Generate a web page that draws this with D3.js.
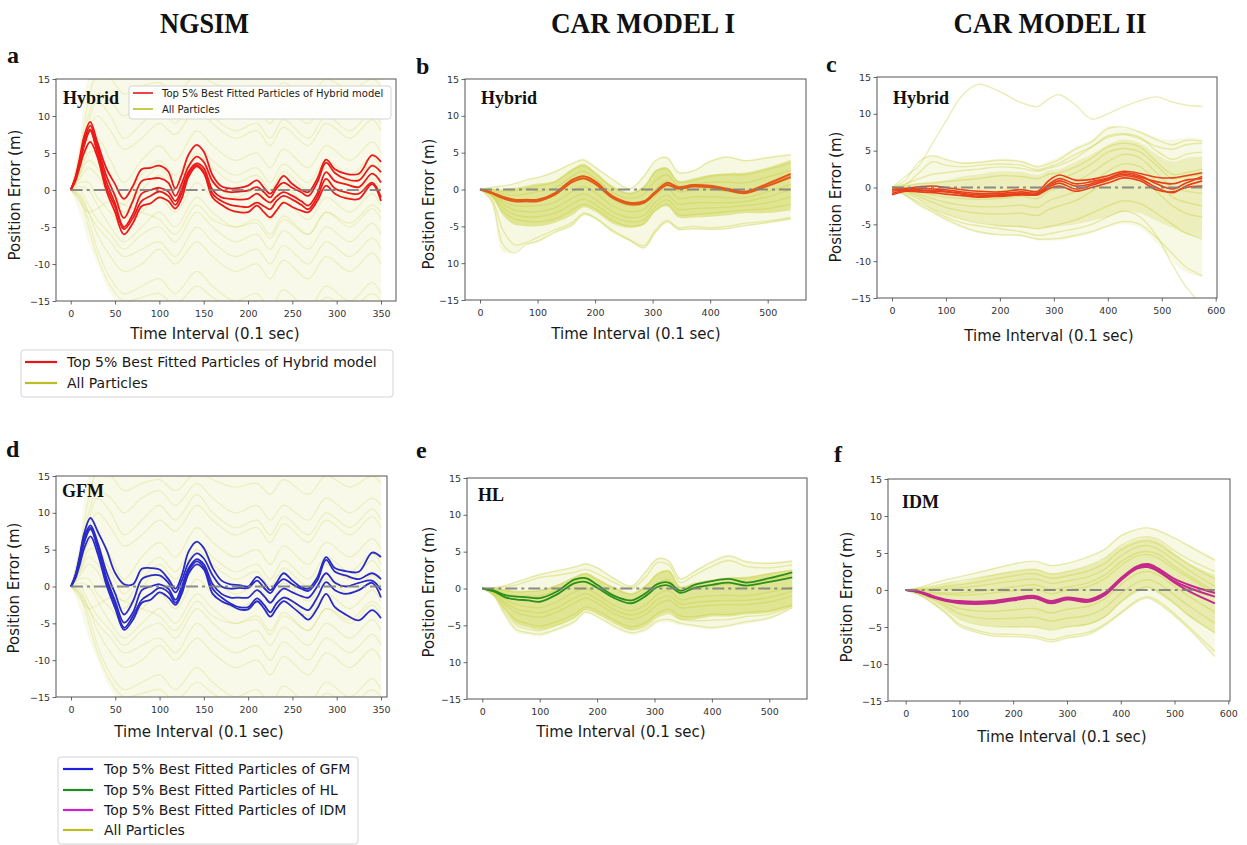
<!DOCTYPE html>
<html><head><meta charset="utf-8">
<script src="https://cdn.jsdelivr.net/npm/d3@7"></script>
<style>body{margin:0;background:#fff}svg{display:block}</style>
</head><body>
<svg id="chart" width="1247" height="845"></svg>
<script>
// ================= DATA =================
const columnTitles = ["NGSIM", "CAR MODEL I", "CAR MODEL II"];
const panelLetters = ["a", "b", "c", "d", "e", "f"];
const modelNames = ["Hybrid", "Hybrid", "Hybrid", "GFM", "HL", "IDM"];
const xAxisTitle = "Time Interval (0.1 sec)";
const yAxisTitle = "Position Error (m)";

const yTickValues = [15, 10, 5, 0, -5, -10, -15];
const yTickLabelsA = ["15", "10", "5", "0", "-5", "-10", "−15"];
const yTickLabelsB = ["15", "10", "5", "0", "-5", "10", "−15"];
const yTickLabelsC = ["15", "10", "5", "0", "-5", "-10", "−15"];
const yTickLabelsD = ["15", "10", "5", "0", "-5", "-10", "−15"];
const yTickLabelsE = ["15", "10", "5", "0", "−5", "10", "−15"];
const yTickLabelsF = ["15", "10", "5", "0", "−5", "−10", "−15"];
const ngsimXTicks = [0, 50, 100, 150, 200, 250, 300, 350];
const carIXTicks = [0, 100, 200, 300, 400, 500];
const carIIXTicks = [0, 100, 200, 300, 400, 500, 600];

// ---- NGSIM (panels a, d) ----
const ngsimBestX = [0,5,10,15,22,30,40,50,60,70,80,90,100,110,118,125,133,142,150,160,170,180,190,200,210,218,225,232,240,250,260,268,278,288,298,310,325,340,350];
const hybridNgsimBest = [
  [0,1.6,4.2,7.2,9.2,6.5,3.0,0.8,-1.2,0.5,2.8,3.0,3.3,2.5,0.2,2.0,4.8,6.1,5.2,2.0,0.5,0.2,0.3,0.6,1.3,0.3,-0.5,0.6,1.9,0.8,0.0,-0.3,1.5,4.1,2.8,2.2,2.2,4.7,3.8],
  [0,1.5,3.9,6.6,8.7,6.0,2.0,-0.8,-3.8,-1.5,1.2,1.5,1.6,1.0,-0.8,0.8,3.2,4.5,3.8,1.2,0.0,-0.3,-0.2,-0.1,0.4,-0.3,-1.0,0.2,1.0,0.3,-0.3,-0.8,1.0,3.7,2.3,1.5,1.3,3.3,2.4],
  [0,1.4,3.6,6.2,8.2,5.5,1.2,-1.8,-5.0,-3.3,-0.5,0.0,0.3,-0.2,-1.5,0.0,2.5,3.6,3.0,0.0,-1.0,-1.2,-1.3,-1.2,-0.5,-1.2,-1.7,-0.9,-0.3,-0.8,-1.5,-2.1,-0.5,2.4,1.2,0.8,0.4,2.2,1.0],
  [0,1.3,3.4,5.9,8.0,5.0,0.5,-2.3,-5.3,-3.8,-1.5,-0.8,-0.2,-0.8,-2.0,-0.5,2.2,3.4,2.5,-0.5,-1.5,-2.0,-2.2,-2.3,-1.7,-2.2,-2.6,-1.5,-0.8,-1.3,-2.0,-2.6,-1.0,1.5,0.2,-0.3,-0.5,1.0,-1.0],
  [0,1.1,3.0,5.0,6.5,4.5,0.0,-3.0,-6.0,-4.5,-2.2,-1.8,-1.0,-1.5,-2.5,-1.2,1.8,3.2,2.3,-1.0,-2.0,-2.7,-3.0,-3.0,-2.1,-3.0,-3.7,-2.8,-1.7,-2.3,-2.8,-3.0,-1.5,0.6,-0.5,-1.1,-1.2,0.8,-1.5]
];
const gfmNgsimBest = [
  [0,1.6,4.3,7.3,9.3,7.5,5.0,1.8,0.3,0.3,2.4,2.5,2.3,1.0,-0.3,1.5,4.8,6.1,5.2,2.5,0.8,0.3,0.2,0.0,1.3,0.5,-0.5,0.5,1.8,0.8,-0.1,-0.3,1.2,4.0,2.5,2.1,2.0,4.6,4.0],
  [0,1.5,4.0,6.8,8.3,6.0,2.0,-1.0,-3.8,-2.0,1.0,1.5,1.5,0.5,-0.8,0.8,3.3,4.5,3.8,1.5,0.0,-0.3,-0.2,-0.2,0.8,-0.2,-0.9,0.2,1.0,0.3,-0.3,-0.6,0.8,3.6,2.0,1.5,1.0,1.8,1.0],
  [0,1.4,3.7,6.4,8.0,5.5,1.2,-2.0,-4.9,-3.5,-0.5,0.0,0.3,-0.3,-1.8,0.0,2.5,3.7,3.0,0.3,-1.0,-1.5,-1.5,-1.5,-0.5,-1.3,-2.2,-1.2,-0.3,-0.8,-1.3,-1.5,0.0,1.8,0.5,0.0,0.5,0.8,-0.5],
  [0,1.3,3.5,6.0,7.8,5.2,0.8,-2.5,-5.6,-4.0,-1.8,-1.0,-0.2,-0.8,-2.2,-0.5,2.2,3.4,2.6,-0.3,-1.5,-2.3,-2.8,-2.8,-1.6,-2.5,-3.5,-2.3,-1.5,-2.0,-2.8,-3.2,-1.5,0.6,-0.5,-1.0,-0.5,0.5,-1.5],
  [0,1.1,3.0,5.2,6.8,4.5,0.2,-3.0,-5.9,-4.5,-2.2,-1.8,-0.8,-1.5,-2.5,-1.0,1.8,3.0,2.3,-1.0,-2.0,-2.5,-3.1,-3.1,-2.0,-3.0,-4.1,-3.0,-2.0,-2.8,-3.8,-4.5,-3.0,-1.0,-2.8,-3.8,-4.6,-3.2,-4.3]
];
const ngsimCloudX = [0,10,20,30,45,60,80,100,118,142,160,185,210,225,240,268,288,315,340,350];
const ngsimCloudHi = [0,6,15,16,16,16,16,16,16,16,16,16,16,16,16,16,16,16,16,16];
const ngsimCloudLo = [0,-3,-7,-10,-14,-16,-16,-16,-16,-16,-16,-16,-16,-16,-16,-16,-16,-16,-16,-16];
const ngsimParticles = [
  [0,4,10,13,12,10,12,13,11,14,12,10,11,9,11,9,12,10,12,11],
  [0,3,8,10,8,5.5,7,9,7.5,11,9,7,8,6,8.5,6,9,7,9.5,8],
  [0,2.5,6,7,4,1,4,6,4,8,6,4,5,3,5.5,3,6,4,6.5,5],
  [0,2,4,3,0,-2,1,3,1,5,3,1,2,0,2.5,0,3,1,3.5,2],
  [0,1,1,-1,-3,-5,-3,-1,-3,1,-1,-3,-2,-4,-1.5,-4,-1,-3,-0.5,-2],
  [0,0,-2,-4,-6,-8,-6,-5,-7,-3,-5,-7,-6,-8,-5.5,-8,-5,-7,-4.5,-6],
  [0,-0.5,-3,-6,-9,-11,-10,-8,-10,-7,-9,-11,-10,-12,-9.5,-12,-9,-11,-8.5,-10],
  [0,-1,-4,-8,-12,-14,-13,-12,-14,-11,-13,-15,-14,-16,-13.5,-16,-13,-15,-12.5,-14],
  [0,5,12,15.5,15,13,14,14.5,13,15.5,14.5,13.5,14,12.5,14.5,12.5,15,13.5,15,14],
  [0,1.5,3,2,-1,-3,0,2,0,3,1,-1,0,-2,0.5,-2,1,-1,1.5,0],
  [0,0.5,0,-2,-5,-7,-5,-3,-5,-1,-3,-5,-4,-6,-3.5,-6,-3,-5,-2.5,-4],
  [0,-0.8,-3,-5,-7,-9,-8,-7,-9,-5,-7,-9,-8,-10,-7.5,-10,-7,-9,-6.5,-8],
  [0,3.5,9,12,10,7,9,11,9,12.5,10,8,9,7,9.5,7,10,8,10.5,9],
  [0,2,5,5,2,-1,2,4,2,6,4,2,3,1,3.5,1,4,2,4.5,3],
  [0,-1.2,-5,-9,-13,-15,-14.5,-14,-15.5,-13,-14.5,-16,-15,-17,-15,-17,-14.5,-16,-14,-15],
  [0,-1.5,-3,-2.5,-1.5,-2,-3,-4,-6,-2,-4,-5,-4.5,-6.5,-4,-6,-3,-4.5,-2,-3]
];

// ---- CAR MODEL I (panels b, e) ----
const carIX = [0,20,40,60,80,100,130,160,180,200,230,260,285,305,325,345,370,400,430,460,500,540];
const hybridCarIBest = [
  [0,-0.4,-1.0,-1.4,-1.4,-1.4,-0.5,1.3,1.8,1.1,-0.9,-1.8,-1.6,-0.3,0.9,0.3,0.6,0.5,0.1,-0.3,0.8,2.1],
  [0,-0.5,-1.2,-1.6,-1.6,-1.6,-0.7,1.0,1.5,0.8,-1.1,-2.0,-1.8,-0.5,0.6,0.1,0.4,0.3,-0.1,-0.5,0.5,1.7]
];
const hybridCarIOuterHi = [0,0.4,0.5,0.8,1.3,1.7,2.5,3.6,4.2,3.2,1.5,0.2,2.0,4.0,4.5,2.5,2.6,4.0,4.5,4.0,4.5,4.9];
const hybridCarIOuterLo = [0,-2,-8.5,-8.5,-7.5,-7.2,-6,-5,-3.5,-4,-5.8,-7,-8,-6,-4.5,-5.5,-5.5,-5.5,-5.4,-5,-4.6,-4.1];
const hybridCarIInnerHi = [0,0.1,0,0.2,0.5,0.8,1.2,2.8,3.5,2.4,0.5,-0.4,0.5,2.6,3.0,1.2,1.5,2.0,2.2,2.3,3.0,4.0];
const hybridCarIInnerLo = [0,-1.0,-3.5,-4.8,-5.0,-5.0,-4.5,-3.5,-2.4,-3.0,-4.6,-5.2,-4.8,-3,-2.3,-3.8,-3.8,-3.7,-3.5,-3.2,-3.2,-2.8];
const hybridCarIParticles = [
  [0,0.3,0.5,0.8,1.3,1.6,2.4,3.5,4.0,3.0,1.4,0.1,1.8,3.9,4.3,2.3,2.5,3.8,4.4,3.9,4.3,4.7],
  [0,0,-0.3,-0.2,0.2,0.5,1.0,2.6,3.2,2.2,0.3,-0.6,0.3,2.4,2.8,1.0,1.2,1.8,2.0,2.0,2.7,3.6],
  [0,-0.3,-1.2,-1.5,-1.5,-1.3,-0.8,1.0,1.6,0.6,-1.3,-2.2,-1.8,0,1.2,-0.3,0,0,-0.3,-0.5,0.5,1.5],
  [0,-0.6,-2.0,-2.8,-3.0,-3.0,-2.5,-1.2,-0.6,-1.3,-3.0,-3.8,-3.5,-1.7,-0.8,-2.0,-1.8,-1.8,-1.8,-1.6,-1.0,0],
  [0,-0.8,-3.0,-4.0,-4.3,-4.4,-4.0,-2.8,-2.0,-2.6,-4.2,-5.0,-4.6,-2.8,-2.0,-3.4,-3.4,-3.2,-3.0,-2.8,-2.6,-2.0],
  [0,-1.2,-5.5,-7.5,-7.2,-6.5,-5.5,-4.5,-3.2,-3.8,-5.5,-6.8,-7.6,-5.5,-4.2,-5.2,-5.0,-5.2,-5.0,-4.6,-4.3,-3.8],
  [0,-1.5,-7.5,-8.6,-7.5,-7.0,-5.8,-4.8,-3.4,-3.9,-5.7,-6.9,-7.9,-5.8,-4.4,-5.4,-5.3,-5.4,-5.3,-4.9,-4.5,-4.0],
  [0,-0.2,-0.6,-0.8,-0.6,-0.3,0.2,1.8,2.5,1.5,-0.4,-1.2,-0.6,1.2,2.0,0.5,0.7,1.0,1.0,0.9,1.7,2.6],
  [0,-0.5,-1.6,-2.2,-2.3,-2.2,-1.7,-0.3,0.4,-0.4,-2.2,-3.0,-2.7,-0.9,0.2,-1.2,-1.0,-1.0,-1.1,-1.1,-0.3,0.7],
  [0,-0.7,-2.5,-3.4,-3.7,-3.7,-3.2,-2.0,-1.3,-2.0,-3.6,-4.4,-4.1,-2.3,-1.4,-2.7,-2.6,-2.5,-2.4,-2.2,-1.8,-1.0]
];
const hlCarIBest = [
  [0,-0.3,-0.9,-1.1,-1.2,-1.3,-0.4,1.2,1.4,0.5,-1.0,-1.6,-0.6,0.6,0.8,-0.3,0.5,1.0,1.3,0.8,1.4,2.2],
  [0,-0.4,-1.2,-1.5,-1.6,-1.8,-0.8,0.7,0.9,0.1,-1.3,-2.0,-1.0,0.2,0.4,-0.6,0.1,0.5,0.8,0.4,0.9,1.5]
];
const hlCarIOuterHi = [0,0.2,0.5,1.0,1.5,2.0,2.5,3.0,3.5,3.0,1.5,0.5,2.5,4.2,3.9,1.5,2.5,3.8,4.6,3.8,3.6,3.9];
const hlCarIOuterLo = [0,-1.2,-4,-6,-6.3,-6.5,-5.8,-4.8,-3.4,-4,-5.4,-6.3,-5.8,-4.8,-4.6,-5,-5.3,-5.6,-5.2,-4.8,-4.2,-2.7];
const hlCarIInnerHi = [0,0,-0.1,-0.3,-0.3,-0.2,0.5,1.5,2.1,1.4,0.2,-0.6,0.5,2.1,2.5,0.3,0.8,1.2,1.5,1.6,2.1,2.5];
const hlCarIInnerLo = [0,-0.9,-3,-4.8,-5.3,-5.6,-5,-4,-2.9,-3.4,-4.6,-5.6,-5,-3.8,-3.3,-4.2,-4.2,-3.8,-3.8,-3.5,-3.3,-2.4];
const hlCarIParticles = [
  [0,0.1,0.4,0.9,1.4,1.9,2.4,2.9,3.3,2.8,1.3,0.3,2.3,4.0,3.7,1.3,2.3,3.6,4.4,3.6,3.4,3.7],
  [0,-0.1,-0.3,-0.5,-0.4,-0.3,0.4,1.5,2.0,1.2,0,-0.8,0.3,1.9,2.3,0.1,0.6,1.1,1.4,1.4,2.0,2.5],
  [0,-0.4,-1.5,-2.2,-2.5,-2.6,-1.8,-0.5,0,-0.8,-2.3,-3.0,-2.2,-0.8,-0.3,-1.5,-1.2,-1.0,-0.9,-1.0,-0.5,0.2],
  [0,-0.6,-2.2,-3.3,-3.7,-3.9,-3.2,-2.0,-1.3,-2.0,-3.4,-4.2,-3.5,-2.2,-1.6,-2.6,-2.5,-2.3,-2.2,-2.2,-1.8,-1.0],
  [0,-0.8,-2.8,-4.3,-4.8,-5.1,-4.5,-3.5,-2.5,-3.0,-4.3,-5.2,-4.6,-3.4,-2.8,-3.7,-3.8,-3.5,-3.5,-3.2,-3.0,-2.2],
  [0,-1.0,-3.6,-5.6,-6.0,-6.2,-5.5,-4.5,-3.2,-3.8,-5.1,-6.0,-5.5,-4.4,-4.2,-4.7,-5.0,-5.3,-5.0,-4.5,-4.0,-2.6],
  [0,-0.2,-0.7,-1.0,-1.0,-1.0,-0.2,1.0,1.3,0.4,-1.0,-1.7,-0.7,0.7,1.2,-0.5,0,0.4,0.6,0.5,1.2,1.8],
  [0,-0.5,-1.9,-2.8,-3.1,-3.3,-2.6,-1.3,-0.7,-1.4,-2.9,-3.6,-2.9,-1.5,-1.0,-2.1,-1.9,-1.7,-1.6,-1.6,-1.2,-0.4],
  [0,0,0.2,0.5,1.0,1.5,1.8,2.2,2.6,2.0,0.8,0,1.6,3.5,3.2,0.8,1.8,3.0,3.8,3.0,2.8,3.2],
  [0,-0.9,-3.2,-5.0,-5.5,-5.7,-5.0,-4.0,-2.9,-3.4,-4.7,-5.6,-5.1,-3.9,-3.4,-4.2,-4.4,-4.3,-4.2,-3.8,-3.5,-2.4]
];

// ---- CAR MODEL II (panels c, f) ----
const carIIHybridX = [0,25,50,75,100,130,160,200,240,270,290,310,340,370,400,430,460,490,520,545,575];
const hybridCarIIBest = [
  [0,-0.1,0.1,0.2,0.0,-0.3,-0.5,-0.6,-0.3,-0.5,0.9,1.7,1.0,1.1,1.6,2.2,1.9,1.4,1.3,1.6,2.0],
  [-0.3,-0.2,-0.1,-0.2,-0.3,-0.6,-0.8,-0.8,-0.6,-0.7,0.4,1.2,0.5,0.8,1.3,2.0,1.6,0.5,-0.2,0.6,1.5],
  [-0.8,-0.4,-0.4,-0.5,-0.6,-0.8,-1.0,-1.0,-0.8,-0.9,0.0,0.6,-0.2,0.3,1.0,1.6,1.2,0.0,-0.7,0.2,0.9],
  [-1.0,-0.5,-0.6,-0.7,-0.9,-1.1,-1.3,-1.2,-1.0,-1.0,-0.2,0.2,-0.5,0.0,0.6,1.3,0.9,-0.3,-0.6,0.0,0.2],
  [-0.5,-0.3,-0.3,-0.4,-0.5,-0.9,-1.2,-1.1,-0.9,-0.8,0.2,0.9,0.2,0.5,1.2,1.8,1.4,0.8,0.5,1.0,1.2]
];
const hybridCarIIOuterHi = [0,0.8,3.0,4.3,3.8,3.5,3.6,3.9,3.7,3.0,3.6,4.2,5.5,6.5,8.3,8.0,7.6,6.8,6.5,6.8,6.6];
const hybridCarIIOuterLo = [0,-1.3,-2.6,-3.5,-4.5,-5.5,-6.2,-6.5,-6.7,-7.2,-7.2,-7.2,-6.8,-6.2,-5.4,-5.0,-5.5,-7.5,-10,-11.5,-12.2];
const hybridCarIIInnerHi = [0,0.3,0.6,0.8,1.0,1.5,1.8,2.2,2.1,1.7,2.3,2.5,3.5,4.5,5.8,6.5,6.0,4.5,3.5,4.0,4.2];
const hybridCarIIInnerLo = [0,-0.8,-1.6,-2.6,-3.5,-4.2,-4.7,-5.2,-5.4,-5.6,-5.5,-5.3,-5.0,-4.5,-4.0,-3.3,-3.5,-4.5,-5.5,-6.3,-6.8];
const hybridCarIIParticles = [
  [0,1.5,3.0,6,9,12.5,14,13,11.5,11,12,12.6,11.2,9.3,10.0,11.0,11.8,12.3,11.6,11.2,11.0],
  [0,1.0,3.5,4.3,3.8,3.3,3.4,3.7,3.5,2.8,3.2,3.8,5.2,6.2,8.0,8.2,7.5,6.5,5.8,6.4,6.3],
  [0,0.5,1.2,1.8,2.0,2.3,2.5,2.8,2.6,2.2,2.6,3.0,4.0,5.5,7.0,7.3,6.8,5.0,3.8,4.5,4.8],
  [0,0.2,0.5,0.6,0.8,1.0,1.2,1.6,1.5,1.2,1.8,2.0,2.8,4.0,5.5,6.0,5.5,3.5,1.8,2.0,2.5],
  [0,-0.3,-0.6,-1.0,-1.3,-1.5,-1.6,-1.5,-1.2,-1.5,-0.5,0,0.8,2.0,3.5,4.5,4.0,2.0,0,-0.5,-0.8],
  [0,-0.5,-1.2,-2.0,-2.7,-3.2,-3.5,-3.6,-3.5,-3.8,-3.0,-2.5,-1.8,-0.5,1.0,2.0,1.5,-0.5,-2.5,-3.5,-4.0],
  [0,-0.7,-1.6,-2.8,-3.6,-4.3,-4.8,-5.2,-5.3,-5.6,-5.3,-5.0,-4.4,-3.5,-2.5,-1.8,-2.2,-3.5,-5.0,-6.2,-7.0],
  [0,-1.0,-2.3,-3.3,-4.3,-5.3,-6.0,-6.4,-6.5,-7.0,-7.0,-6.9,-6.5,-6.0,-5.2,-4.6,-5.0,-6.8,-9.0,-10.8,-12.0],
  [0,-1.0,-2.0,-3.0,-4.0,-4.8,-5.2,-5.6,-6.0,-6.5,-6.3,-6.0,-5.6,-5.0,-4.0,-3.2,-4.0,-6.5,-10.5,-13.5,-16],
  [0,0.4,2.0,3.5,3.0,2.8,3.0,3.2,3.0,2.4,2.8,3.3,4.5,5.5,6.8,7.2,6.6,5.6,5.2,5.8,6.0],
  [0,-0.2,-0.3,-0.5,-0.6,-0.8,-0.9,-0.5,-0.2,-0.6,0.6,1.2,2.0,3.2,4.8,5.3,4.8,3.0,1.2,1.5,1.8],
  [0,-0.4,-0.9,-1.5,-2.0,-2.4,-2.6,-2.6,-2.4,-2.7,-1.8,-1.3,-0.6,0.6,2.2,3.2,2.8,0.8,-1.3,-2.0,-2.5]
];
const carIIIdmX = [0,25,50,75,100,130,160,200,240,270,300,340,370,400,430,450,470,500,530,575];
const idmCarIIBest = [
  [0,-0.2,-0.8,-1.3,-1.5,-1.6,-1.5,-1.1,-0.8,-1.5,-1.0,-1.3,-0.4,1.6,3.2,3.5,2.9,1.5,0.6,-0.4],
  [0,-0.3,-0.9,-1.4,-1.7,-1.8,-1.7,-1.3,-1.0,-1.7,-1.2,-1.5,-0.6,1.4,3.0,3.3,2.7,1.2,0.2,-0.9],
  [0,-0.3,-1.0,-1.5,-1.8,-1.9,-1.8,-1.4,-1.1,-1.8,-1.3,-1.6,-0.7,1.3,2.9,3.1,2.5,1.0,-0.3,-1.8]
];
const idmCarIIOuterHi = [0,0.3,0.9,1.4,1.8,2.3,2.9,3.6,3.9,3.4,3.6,4.5,5.5,7.5,8.2,8.4,8.2,7.0,6.0,4.3];
const idmCarIIOuterLo = [0,-0.7,-1.8,-3.2,-4.9,-5.7,-6.2,-6.3,-6.5,-7.0,-6.5,-6.0,-4.8,-3.2,-1.6,-1.1,-1.8,-3.5,-5.5,-9.0];
const idmCarIIInnerHi = [0,0.1,0.4,0.8,1.0,1.5,2.0,2.5,2.8,2.2,2.5,3.2,4.2,5.8,6.8,7.0,6.6,5.0,3.5,2.0];
const idmCarIIInnerLo = [0,-0.5,-1.3,-2.5,-3.8,-4.5,-4.8,-5.0,-5.0,-5.3,-5.0,-4.7,-3.8,-1.8,-0.3,0.2,-0.5,-2.0,-3.8,-5.8];
const idmCarIIParticles = [
  [0,0.3,0.9,1.4,1.8,2.3,2.8,3.5,3.9,3.3,3.6,4.5,5.5,7.3,8.2,8.4,8.0,7.0,5.8,4.0],
  [0,0.2,0.5,0.9,1.2,1.6,2.0,2.5,2.8,2.2,2.5,3.3,4.3,6.0,7.0,7.2,6.8,5.3,4.0,2.5],
  [0,0,0.1,0.2,0.3,0.5,0.8,1.2,1.5,0.9,1.2,1.8,2.8,4.6,5.8,6.0,5.5,4.0,2.5,0.5],
  [0,-0.2,-0.5,-0.6,-0.7,-0.6,-0.4,-0.1,0.2,-0.5,0,0.5,1.5,3.3,4.6,4.8,4.3,2.8,1.5,-0.5],
  [0,-0.3,-1.0,-1.8,-2.5,-2.8,-2.9,-2.7,-2.5,-3.1,-2.6,-2.2,-1.2,0.7,2.2,2.5,2.0,0.5,-1.0,-3.0],
  [0,-0.4,-1.2,-2.2,-3.2,-3.7,-3.9,-3.8,-3.7,-4.2,-3.8,-3.4,-2.4,-0.5,1.0,1.4,0.9,-0.7,-2.3,-4.5],
  [0,-0.5,-1.4,-2.6,-3.9,-4.6,-4.9,-5.0,-5.0,-5.4,-5.0,-4.6,-3.6,-1.6,0,0.4,-0.2,-1.8,-3.6,-5.8],
  [0,-0.7,-1.8,-3.2,-4.9,-5.7,-6.2,-6.3,-6.5,-7.0,-6.5,-6.0,-4.8,-3.2,-1.6,-1.1,-1.8,-3.5,-5.5,-9.0],
  [0,-0.6,-1.7,-3.0,-4.6,-5.4,-5.9,-6.0,-6.2,-6.7,-6.2,-5.7,-4.6,-3.0,-1.4,-0.9,-1.5,-3.2,-5.2,-8.3],
  [0,0.1,0.2,0.5,0.7,1.0,1.4,1.9,2.2,1.6,1.9,2.6,3.6,5.4,6.4,6.6,6.2,4.7,3.3,1.5],
  [0,-0.1,-0.3,-0.4,-0.4,-0.2,0.0,0.4,0.7,0.1,0.4,1.0,2.0,3.8,5.0,5.2,4.8,3.2,1.8,-0.2]
];

// legends
const legendA = [{label:"Top 5% Best Fitted Particles of Hybrid model", color:"#e8141c"}, {label:"All Particles", color:"#bcbd22"}];
const legendD = [
  {label:"Top 5% Best Fitted Particles of GFM", color:"#1f1fe0"},
  {label:"Top 5% Best Fitted Particles of HL", color:"#1f8a1f"},
  {label:"Top 5% Best Fitted Particles of IDM", color:"#cc22cc"},
  {label:"All Particles", color:"#bcbd22"}
];

// ================= LAYOUT =================
const CLOUD = "#c2cb2c";
const panels = [
  {key:"a", frame:[56,79,396,301], x0px:70.7, xRv:350, xRpx:381, xTicks:ngsimXTicks, yLabels:yTickLabelsA, xEnd:350,
   bands:[{x:ngsimCloudX, lo:ngsimCloudLo, hi:ngsimCloudHi, op:0.11}], partX:ngsimCloudX, parts:ngsimParticles, partOp:0.22, partW:1.2,
   bestX:ngsimBestX, best:hybridNgsimBest, bestColor:"#ec1a1a", bestW:1.8,
   letter:[7,63], model:[63,104], xl:[215,339], yl:[20,195]},
  {key:"b", frame:[465,79,806,300], x0px:480, xRv:500, xRpx:767.7, xTicks:carIXTicks, yLabels:yTickLabelsB, xEnd:540,
   bands:[{x:carIX, lo:hybridCarIOuterLo, hi:hybridCarIOuterHi, op:0.14},{x:carIX, lo:hybridCarIInnerLo, hi:hybridCarIInnerHi, op:0.42}],
   partX:carIX, parts:hybridCarIParticles, partOp:0.35, partW:1.3,
   bestX:carIX, best:hybridCarIBest, bestColor:"#e2591a", bestW:2,
   letter:[416,74], model:[481,104], xl:[636,339], yl:[434,204]},
  {key:"c", frame:[877,77,1217,298], x0px:892, xRv:600, xRpx:1215.7, xTicks:carIIXTicks, yLabels:yTickLabelsC, xEnd:575,
   bands:[{x:carIIHybridX, lo:hybridCarIIOuterLo, hi:hybridCarIIOuterHi, op:0.12},{x:carIIHybridX, lo:hybridCarIIInnerLo, hi:hybridCarIIInnerHi, op:0.22}],
   partX:carIIHybridX, parts:hybridCarIIParticles, partOp:0.35, partW:1.4,
   bestX:carIIHybridX, best:hybridCarIIBest, bestColor:"#e8401c", bestW:1.6,
   letter:[826,72], model:[893,104], xl:[1049,341], yl:[841,197]},
  {key:"d", frame:[56,476,387,697], x0px:71, xRv:350, xRpx:381, xTicks:ngsimXTicks, yLabels:yTickLabelsD, xEnd:350,
   bands:[{x:ngsimCloudX, lo:ngsimCloudLo, hi:ngsimCloudHi, op:0.11}], partX:ngsimCloudX, parts:ngsimParticles, partOp:0.22, partW:1.2,
   bestX:ngsimBestX, best:gfmNgsimBest, bestColor:"#2a2ac8", bestW:1.8,
   letter:[6,457], model:[62,497], xl:[199,737], yl:[19,588]},
  {key:"e", frame:[467,478,807,699], x0px:482.3, xRv:500, xRpx:769.3, xTicks:carIXTicks, yLabels:yTickLabelsE, xEnd:540,
   bands:[{x:carIX, lo:hlCarIOuterLo, hi:hlCarIOuterHi, op:0.14},{x:carIX, lo:hlCarIInnerLo, hi:hlCarIInnerHi, op:0.42}],
   partX:carIX, parts:hlCarIParticles, partOp:0.35, partW:1.3,
   bestX:carIX, best:hlCarIBest, bestColor:"#2b8f1e", bestW:1.8,
   letter:[416,458], model:[478,501], xl:[621,737], yl:[434,592]},
  {key:"f", frame:[888,479,1230,701], x0px:905.7, xRv:600, xRpx:1228.3, xTicks:carIIXTicks, yLabels:yTickLabelsF, xEnd:575,
   bands:[{x:carIIIdmX, lo:idmCarIIOuterLo, hi:idmCarIIOuterHi, op:0.12},{x:carIIIdmX, lo:idmCarIIInnerLo, hi:idmCarIIInnerHi, op:0.28}],
   partX:carIIIdmX, parts:idmCarIIParticles, partOp:0.35, partW:1.4,
   bestX:carIIIdmX, best:idmCarIIBest, bestColor:"#c42a8c", bestW:2,
   letter:[834,462], model:[902,508], xl:[1062,742], yl:[852,597]}
];

const svg = d3.select("#chart");
const defs = svg.append("defs");
const OLIVE = "#bcbd22";
const SANS = "'DejaVu Sans', sans-serif";
const SERIF = "'Liberation Serif', 'Times New Roman', serif";

panels.forEach((p, pi) => {
  const [L, T, R, B] = p.frame;
  const x = d3.scaleLinear().domain([0, p.xRv]).range([p.x0px, p.xRpx]);
  const y = d3.scaleLinear().domain([-15, 15]).range([B, T]);
  defs.append("clipPath").attr("id", "clip-" + p.key)
    .append("rect").attr("x", L).attr("y", T).attr("width", R - L).attr("height", B - T);
  const g = svg.append("g");
  const pg = g.append("g").attr("clip-path", `url(#clip-${p.key})`);

  const area = d3.area().x(d => x(d[0])).y0(d => y(d[1])).y1(d => y(d[2])).curve(d3.curveCatmullRom);
  p.bands.forEach(b => {
    pg.append("path").datum(b.x.map((xv, i) => [xv, b.lo[i], b.hi[i]]))
      .attr("d", area).attr("fill", CLOUD).attr("fill-opacity", b.op);
  });
  const line = d3.line().x(d => x(d[0])).y(d => y(d[1])).curve(d3.curveCatmullRom);
  p.parts.forEach(arr => {
    pg.append("path").datum(p.partX.map((xv, i) => [xv, arr[i]]))
      .attr("d", line).attr("fill", "none").attr("stroke", CLOUD)
      .attr("stroke-opacity", p.partOp).attr("stroke-width", p.partW);
  });
  p.best.forEach(arr => {
    pg.append("path").datum(p.bestX.map((xv, i) => [xv, arr[i]]))
      .attr("d", line).attr("fill", "none").attr("stroke", p.bestColor)
      .attr("stroke-width", p.bestW).attr("stroke-linejoin", "round");
  });
  // zero reference line (drawn on top, as in the reference)
  pg.append("line").attr("x1", x(0)).attr("x2", x(p.xEnd)).attr("y1", y(0)).attr("y2", y(0))
    .attr("stroke", "#7f7f7f").attr("stroke-opacity", 0.9).attr("stroke-width", 2).attr("stroke-dasharray", "12,4,3,4");

  // frame
  g.append("rect").attr("x", L).attr("y", T).attr("width", R - L).attr("height", B - T)
    .attr("fill", "none").attr("stroke", "#555").attr("stroke-width", 1);

  // axes
  const xa = g.append("g").attr("transform", `translate(0,${B})`)
    .call(d3.axisBottom(x).tickValues(p.xTicks).tickSize(3.5).tickPadding(6).tickFormat(d3.format("d")));
  const ya = g.append("g").attr("transform", `translate(${L},0)`)
    .call(d3.axisLeft(y).tickValues(yTickValues).tickSize(3.5).tickPadding(2.5).tickFormat((d, i) => p.yLabels[i]));
  [xa, ya].forEach(a => {
    a.select(".domain").remove();
    a.selectAll(".tick line").attr("stroke", "#444").attr("stroke-width", 0.8);
    a.selectAll(".tick text").attr("fill", "#333").style("font-family", SANS).style("font-size", "9.5px");
  });

  // axis titles
  g.append("text").attr("x", p.xl[0]).attr("y", p.xl[1]).attr("text-anchor", "middle")
    .style("font-family", SANS).style("font-size", "15px").attr("fill", "#1a1a1a").text(xAxisTitle);
  g.append("text").attr("transform", `translate(${p.yl[0]},${p.yl[1]}) rotate(-90)`).attr("text-anchor", "middle")
    .style("font-family", SANS).style("font-size", "15px").attr("fill", "#1a1a1a").text(yAxisTitle);

  // panel letter and model name
  g.append("text").attr("x", p.letter[0]).attr("y", p.letter[1])
    .style("font-family", SERIF).style("font-weight", "bold").style("font-size", "24px").attr("fill", "#111").text(panelLetters[pi]);
  g.append("text").attr("x", p.model[0]).attr("y", p.model[1])
    .style("font-family", SERIF).style("font-weight", "bold").style("font-size", "18px").attr("fill", "#111").text(modelNames[pi]);
});

// column titles
const titlePos = [[204.5, 89], [643, 184], [1050, 193]];
columnTitles.forEach((t, i) => {
  svg.append("text").attr("x", titlePos[i][0]).attr("y", 33).attr("text-anchor", "middle")
    .attr("textLength", titlePos[i][1]).attr("lengthAdjust", "spacingAndGlyphs")
    .style("font-family", SERIF).style("font-weight", "bold").style("font-size", "30px").attr("fill", "#111").text(t);
});

// legends
function legend(items, box, lineX, textX, rows, fs, lw) {
  const g = svg.append("g");
  g.append("rect").attr("x", box[0]).attr("y", box[1]).attr("width", box[2] - box[0]).attr("height", box[3] - box[1])
    .attr("rx", 3).attr("fill", "#fff").attr("fill-opacity", 0.85).attr("stroke", "#d4d4d4").attr("stroke-width", 1);
  items.forEach((it, i) => {
    g.append("line").attr("x1", lineX[0]).attr("x2", lineX[1]).attr("y1", rows[i]).attr("y2", rows[i])
      .attr("stroke", it.color).attr("stroke-width", lw);
    g.append("text").attr("x", textX).attr("y", rows[i]).attr("dy", "0.36em")
      .style("font-family", SANS).style("font-size", fs + "px").attr("fill", "#1a1a1a").text(it.label);
  });
}
legend(legendA, [129, 86, 391, 119], [133, 153], 162, [93, 109], 10, 1.6);
legend(legendA, [21, 350, 393, 397], [25, 57], 67, [362, 383], 14, 2.2);
legend(legendD, [58, 757, 358, 844], [63, 93], 104, [769, 790, 810, 830], 14, 2.2);
</script>
</body></html>
